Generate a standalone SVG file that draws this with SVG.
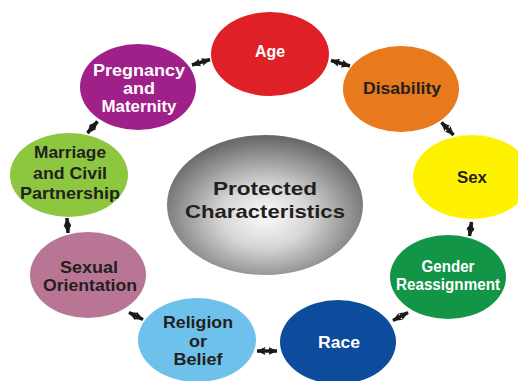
<svg xmlns="http://www.w3.org/2000/svg" width="518" height="381" viewBox="0 0 518 381">
<defs>
<radialGradient id="gc" cx="50%" cy="58%" r="56%">
<stop offset="0" stop-color="#fbfbfb"/>
<stop offset="0.4" stop-color="#d6d6d6"/>
<stop offset="1" stop-color="#6a6a6a"/>
</radialGradient>
<marker id="ah" viewBox="0 0 9 8" markerWidth="9" markerHeight="8" refX="8.5" refY="4" orient="auto-start-reverse" markerUnits="userSpaceOnUse">
<path d="M0,0 L9,4 L0,8 L1.5,4 z" fill="#1a1a1a"/>
</marker>
<style>
text{font-family:"Liberation Sans",Arial,sans-serif;font-weight:bold;font-size:16.5px;text-anchor:middle}
.w{fill:#ffffff}
.d{fill:#231f20}
.big{font-size:19px}
.c{stroke:#1a1a1a;stroke-width:3.5;fill:none;marker-start:url(#ah);marker-end:url(#ah)}
</style>
</defs>
<rect width="518" height="381" fill="#ffffff"/>
<g id="connectors">
<path class="c" d="M192,65 L210,59.5"/>
<path class="c" d="M331,60.5 L350,66"/>
<path class="c" d="M441.5,122.5 L453.5,135"/>
<path class="c" d="M471.5,222 L469.5,236"/>
<path class="c" d="M408,312.5 L393,320.5"/>
<path class="c" d="M257,351 L277,351"/>
<path class="c" d="M129,312.5 L143,319.5"/>
<path class="c" d="M67,218 L68,233"/>
<path class="c" d="M97.5,121.5 L87.5,133"/>
</g>
<g id="center">
<ellipse cx="265" cy="205" rx="98" ry="70" fill="url(#gc)"/>
<text class="d big" x="265" y="195" textLength="104" lengthAdjust="spacingAndGlyphs">Protected</text>
<text class="d big" x="265" y="218" textLength="160" lengthAdjust="spacingAndGlyphs">Characteristics</text>
</g>
<g id="age">
<ellipse cx="270" cy="54" rx="59" ry="42" fill="#df2027"/>
<text class="w" x="270" y="57" textLength="30" lengthAdjust="spacingAndGlyphs">Age</text>
</g>
<g id="disability">
<ellipse cx="401" cy="89" rx="58" ry="43" fill="#e8791c"/>
<text class="d" x="402" y="94" textLength="78" lengthAdjust="spacingAndGlyphs">Disability</text>
</g>
<g id="sex">
<ellipse cx="472" cy="177" rx="59" ry="42" fill="#fff200"/>
<text class="d" x="472" y="183" textLength="30" lengthAdjust="spacingAndGlyphs">Sex</text>
</g>
<g id="gender">
<ellipse cx="448" cy="277" rx="58" ry="42" fill="#139548"/>
<text class="w" x="448" y="272" textLength="53" lengthAdjust="spacingAndGlyphs">Gender</text>
<text class="w" x="448" y="290" textLength="104" lengthAdjust="spacingAndGlyphs">Reassignment</text>
</g>
<g id="race">
<ellipse cx="338" cy="342" rx="58" ry="42" fill="#0d4c9c"/>
<text class="w" x="339" y="348" textLength="42" lengthAdjust="spacingAndGlyphs">Race</text>
</g>
<g id="religion">
<ellipse cx="197" cy="340" rx="59" ry="42" fill="#6dc1eb"/>
<text class="d" x="198" y="328" textLength="70" lengthAdjust="spacingAndGlyphs">Religion</text>
<text class="d" x="198" y="347" textLength="18" lengthAdjust="spacingAndGlyphs">or</text>
<text class="d" x="198" y="365" textLength="49" lengthAdjust="spacingAndGlyphs">Belief</text>
</g>
<g id="sexual-orientation">
<ellipse cx="88" cy="275" rx="58" ry="43" fill="#b87694"/>
<text class="d" x="89" y="273" textLength="58" lengthAdjust="spacingAndGlyphs">Sexual</text>
<text class="d" x="90" y="291" textLength="94" lengthAdjust="spacingAndGlyphs">Orientation</text>
</g>
<g id="marriage">
<ellipse cx="69" cy="175" rx="59" ry="42" fill="#8dc63f"/>
<text class="d" x="70" y="158" textLength="72" lengthAdjust="spacingAndGlyphs">Marriage</text>
<text class="d" x="70" y="179" textLength="74" lengthAdjust="spacingAndGlyphs">and Civil</text>
<text class="d" x="70" y="199" textLength="100" lengthAdjust="spacingAndGlyphs">Partnership</text>
</g>
<g id="pregnancy">
<ellipse cx="138" cy="87" rx="58" ry="43" fill="#a0208a"/>
<text class="w" x="139" y="76" textLength="92" lengthAdjust="spacingAndGlyphs">Pregnancy</text>
<text class="w" x="139" y="94" textLength="32" lengthAdjust="spacingAndGlyphs">and</text>
<text class="w" x="139" y="112" textLength="75" lengthAdjust="spacingAndGlyphs">Maternity</text>
</g>
</svg>
